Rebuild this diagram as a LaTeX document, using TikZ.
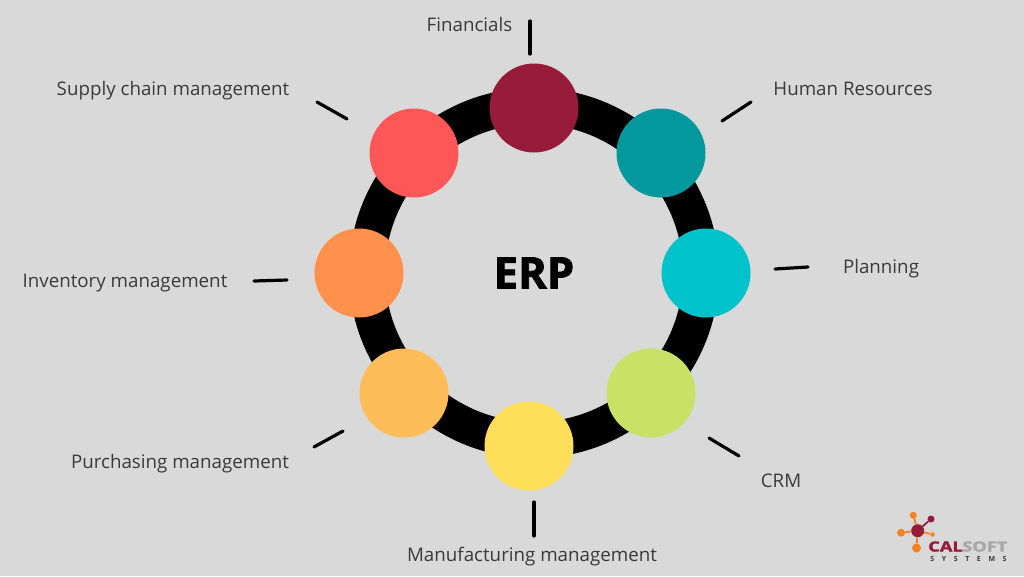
\documentclass[tikz,border=0pt]{standalone}
\usepackage{fontspec}
\setmainfont{Open Sans}
\newfontfamily\heavyfont[FakeBold=1.8]{Open Sans Bold}
\newfontfamily\logofont[FakeBold=2]{Open Sans Bold}
\definecolor{bgc}{HTML}{D9D9D9}
\definecolor{txtc}{HTML}{3A3A3A}
\definecolor{lorange}{HTML}{F58220}
\definecolor{lred}{HTML}{971C3A}
\definecolor{lgrey}{HTML}{A8A8A8}
\definecolor{cfin}{HTML}{971C3A}
\definecolor{chr}{HTML}{03989E}
\definecolor{cplan}{HTML}{00C2CB}
\definecolor{ccrm}{HTML}{C9E265}
\definecolor{cman}{HTML}{FFDE59}
\definecolor{cpur}{HTML}{FFBD59}
\definecolor{cinv}{HTML}{FF914D}
\definecolor{csup}{HTML}{FF5757}
\tikzset{
 hub/.style={circle,minimum size=89pt,inner sep=0pt,fill=#1},
 lab/.style={text=txtc,font=\fontsize{18.75}{22}\selectfont,inner sep=0pt},
 tick/.style={line width=3.2pt,line cap=round,black},
 dotn/.style={circle,inner sep=0pt,minimum size=#1},
 stem/.style={line width=1.8pt}
}
\begin{document}
\begin{tikzpicture}[x=1pt,y=-1pt]
\useasboundingbox[fill=bgc] (0,0) rectangle (1024,576);
\coordinate (ctr) at (534,273);
\draw[line width=36pt,black] (ctr) circle[radius=167];
\node[hub=cfin] (fin) at (534,108) {};
\node[hub=chr] (hr) at (661,153) {};
\node[hub=cplan] (plan) at (706,273) {};
\node[hub=ccrm] (crm) at (651,393) {};
\node[hub=cman] (man) at (529,446) {};
\node[hub=cpur] (pur) at (404,393) {};
\node[hub=cinv] (inv) at (359,273) {};
\node[hub=csup] (sup) at (414,153) {};
\node[inner sep=0pt,font=\fontsize{43.6}{48}\selectfont\heavyfont] (erp) at (534,273) {ERP};
\node[lab] (lfin) at (469.5,24) {Financials};
\node[lab] (lhr) at (853,89) {Human Resources};
\node[lab] (lplan) at (881,269) {Planning};
\node[lab] (lcrm) at (781,480.5) {CRM};
\node[lab] (lman) at (532,557) {Manufacturing management};
\node[lab] (lpur) at (180,464) {Purchasing management};
\node[lab] (linv) at (125,283) {Inventory management};
\node[lab] (lsup) at (173,91) {Supply chain management};
\coordinate (t1a) at (530,21); \coordinate (t1b) at (530,54);
\coordinate (t2a) at (722,121); \coordinate (t2b) at (751,102);
\coordinate (t3a) at (775,269); \coordinate (t3b) at (808,267);
\coordinate (t4a) at (709,438); \coordinate (t4b) at (739,456);
\coordinate (t5a) at (534,502); \coordinate (t5b) at (534,536);
\coordinate (t6a) at (314,447); \coordinate (t6b) at (343,431);
\coordinate (t7a) at (254,281); \coordinate (t7b) at (287,280);
\coordinate (t8a) at (317,102); \coordinate (t8b) at (347,119);
\foreach \i in {1,...,8} \draw[tick] (t\i a) -- (t\i b);
% logo
\node[dotn=13pt,fill=lred] (lc) at (917.7,530.7) {};
\node[dotn=7pt,fill=lorange] (l1) at (913.3,515.3) {};
\node[dotn=7pt,fill=lred] (l2) at (931,519) {};
\node[dotn=4.5pt,fill=lorange] (l3) at (932.5,534.5) {};
\node[dotn=8pt,fill=lorange] (l4) at (901,532.7) {};
\node[dotn=9pt,fill=lorange] (l5) at (916.5,548) {};
\draw[stem,lorange] (lc) -- (l1);
\draw[stem,lred] (lc) -- (l2);
\draw[stem,lorange] (lc) -- (l3);
\draw[stem,lorange] (lc) -- (l4);
\draw[stem,lorange] (lc) -- (l5);
\node[inner sep=0pt,anchor=base west,xscale=1.3,font=\fontsize{14}{16}\selectfont\logofont,text=lred] (cal) at (928,551.5) {CAL};
\node[inner sep=0pt,anchor=base west,xscale=1.3,font=\fontsize{14}{16}\selectfont\logofont,text=lgrey] (soft) at (962,551.5) {SOFT};
\node[inner sep=0pt,text=txtc,font=\fontsize{7}{8}\selectfont\bfseries] (sys) at (968.5,559) {S\hspace{7.6pt}Y\hspace{7.6pt}S\hspace{7.6pt}T\hspace{7.6pt}E\hspace{7.6pt}M\hspace{7.6pt}S};
\end{tikzpicture}
\end{document}
